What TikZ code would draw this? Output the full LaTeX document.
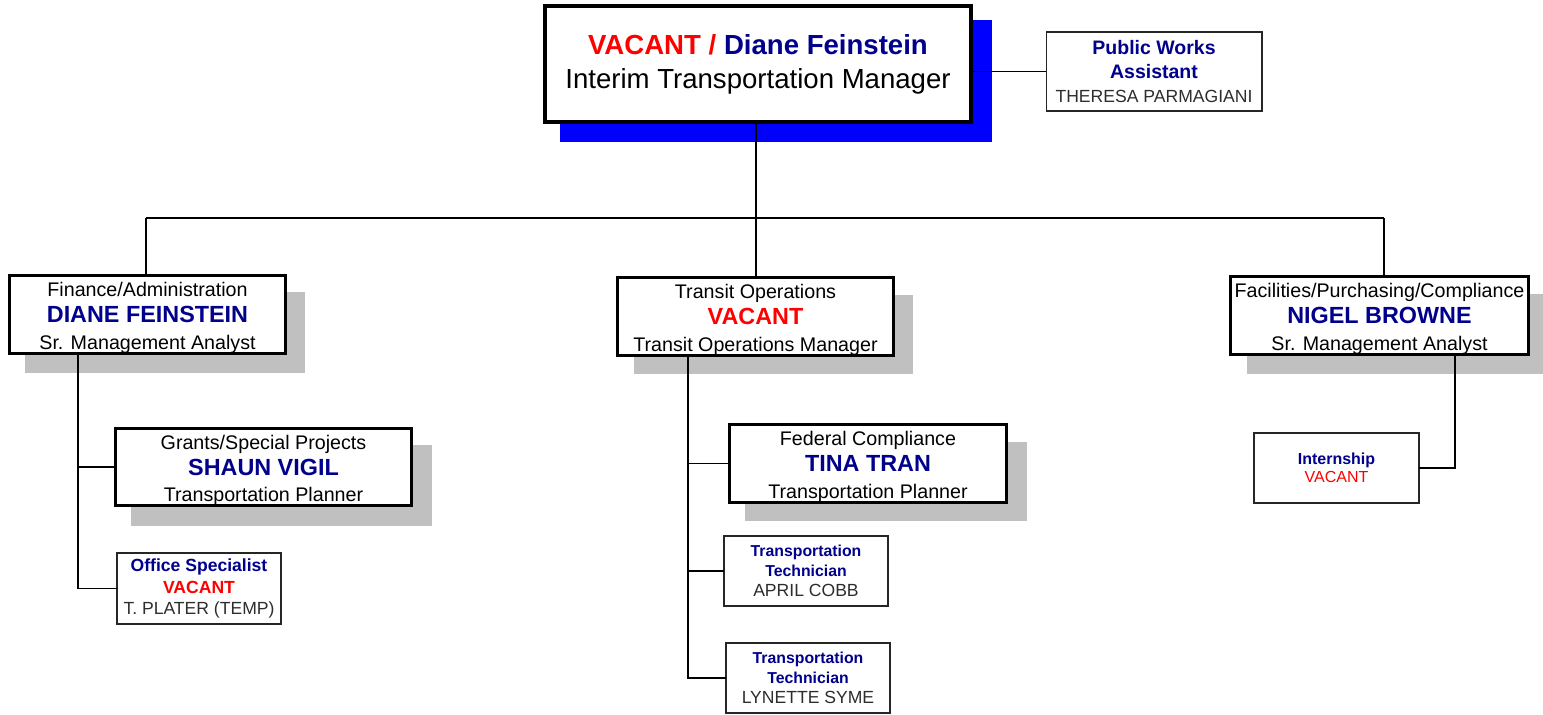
\documentclass[tikz,border=0pt]{standalone}
\usepackage{fontspec}
\setmainfont{Liberation Sans}
\definecolor{navy}{RGB}{0,0,140}
\definecolor{vred}{RGB}{255,0,0}
\definecolor{shgray}{RGB}{192,192,192}
\definecolor{shblue}{RGB}{0,0,255}
\definecolor{txtgray}{RGB}{45,45,45}
\newcommand{\fsz}[2]{\fontsize{#1}{#2}\selectfont}
\newcommand{\topstrut}{\rule{0pt}{12pt}}
\begin{document}
\begin{tikzpicture}[x=0.02cm,y=-0.02cm,
  every node/.style={inner sep=0pt, outer sep=0pt, align=center},
  topbox/.style={draw=black, line width=2.3pt, fill=white, font=\fsz{15.7}{19.3}},
  midbox/.style={draw=black, line width=1.7pt, fill=white, font=\fsz{11.2}{15}},
  smallbox/.style={draw=black!85, line width=0.6pt, fill=white, text=txtgray, font=\fsz{10}{12.2}},
  shadowg/.style={fill=shgray},
  shadowb/.style={fill=shblue},
  conn/.style={draw=black, line width=0.6pt}
]
\useasboundingbox (0,0) rectangle (1543,715);
% shadows
\fill[shadowb] (560,20) rectangle (992,142);
\fill[shadowg] (25,292) rectangle (305,373);
\fill[shadowg] (634,295) rectangle (913,374);
\fill[shadowg] (1247,294) rectangle (1543,374);
\fill[shadowg] (131,445) rectangle (432,526);
\fill[shadowg] (745,442) rectangle (1027,521);

% boxes
\node[topbox, minimum width=8.52cm, minimum height=2.32cm] (top) at (758,64)
  {{\bfseries\textcolor{vred}{VACANT /} \textcolor{navy}{Diane Feinstein}}\\Interim Transportation Manager};
\node[smallbox, minimum width=4.32cm, minimum height=1.58cm, font=\fsz{10}{13.4}] (pw) at (1154,71.5)
  {{\fsz{11.1}{13.4}\bfseries\textcolor{navy}{Public Works}}\\{\fsz{11.1}{13.4}\bfseries\textcolor{navy}{Assistant}}\\THERESA PARMAGIANI};

\node[midbox, minimum width=5.54cm, minimum height=1.5cm] (fin) at (147.5,314.5)
  {\topstrut Finance/Administration\\{\fsz{13.3}{15}\bfseries\textcolor{navy}{DIANE FEINSTEIN}}\\Sr. Management Analyst};
\node[midbox, minimum width=5.54cm, minimum height=1.5cm] (tro) at (755.5,316.5)
  {\topstrut Transit Operations\\{\fsz{13.3}{15}\bfseries\textcolor{vred}{VACANT}}\\Transit Operations Manager};
\node[midbox, minimum width=5.98cm, minimum height=1.54cm] (fac) at (1379.5,315.5)
  {\topstrut Facilities/Purchasing/Compliance\\{\fsz{13.3}{15}\bfseries\textcolor{navy}{NIGEL BROWNE}}\\Sr. Management Analyst};
\node[midbox, minimum width=5.94cm, minimum height=1.52cm] (grants) at (263.5,467)
  {\topstrut Grants/Special Projects\\{\fsz{13.3}{15}\bfseries\textcolor{navy}{SHAUN VIGIL}}\\Transportation Planner};
\node[midbox, minimum width=5.56cm, minimum height=1.5cm] (fed) at (868,463.5)
  {\topstrut Federal Compliance\\{\fsz{13.3}{15}\bfseries\textcolor{navy}{TINA TRAN}}\\Transportation Planner};

\node[smallbox, minimum width=3.28cm, minimum height=1.42cm] (office) at (199,588.5)
  {{\bfseries\textcolor{navy}{Office Specialist}}\\{\bfseries\textcolor{vred}{VACANT}}\\T. PLATER (TEMP)};
\node[smallbox, minimum width=3.28cm, minimum height=1.4cm, font=\fsz{10}{11.3}] (tech1) at (806,571)
  {{\fsz{9}{11.3}\bfseries\textcolor{navy}{Transportation}}\\{\fsz{9}{11.3}\bfseries\textcolor{navy}{Technician}}\\APRIL COBB};
\node[smallbox, minimum width=3.28cm, minimum height=1.4cm, font=\fsz{10}{11.3}] (tech2) at (808,678)
  {{\fsz{9}{11.3}\bfseries\textcolor{navy}{Transportation}}\\{\fsz{9}{11.3}\bfseries\textcolor{navy}{Technician}}\\LYNETTE SYME};
\node[smallbox, minimum width=3.3cm, minimum height=1.4cm, font=\fsz{9.1}{10.2}] (intern) at (1336.5,468)
  {{\bfseries\textcolor{navy}{Internship}}\\\textcolor{vred}{VACANT}};

% connector coordinates
\coordinate (bus) at (756,218);
\coordinate (busL) at (146,218);
\coordinate (busR) at (1384,218);
\coordinate (finT) at (78,353);
\coordinate (troT) at (688,355);
\coordinate (facT) at (1455,355);

% connectors
\draw[conn] (pw.west) -- (pw.west -| top.east);
\draw[conn] (bus |- top.south) -- (bus);
\draw[conn] (busL) -- (busR);
\draw[conn] (busL) -- (busL |- fin.north);
\draw[conn] (bus) -- (bus |- tro.north);
\draw[conn] (busR) -- (busR |- fac.north);
\draw[conn] (finT) |- (office.west);
\draw[conn] (finT |- grants.west) -- (grants.west);
\draw[conn] (troT) |- (tech2.west);
\draw[conn] (troT |- tech1.west) -- (tech1.west);
\draw[conn] (troT |- fed.west) -- (fed.west);
\draw[conn] (facT) |- (intern.east);
\end{tikzpicture}
\end{document}
